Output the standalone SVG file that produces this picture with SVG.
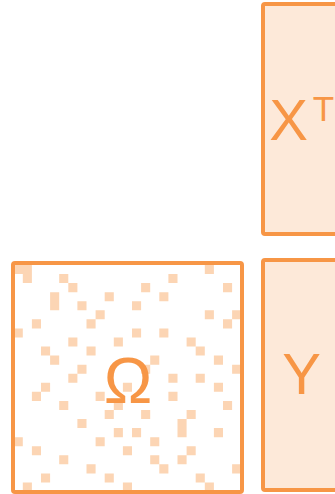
<svg xmlns="http://www.w3.org/2000/svg" width="335" height="494" viewBox="0 0 335 494">
  <style>
    .frame { stroke: #F79646; stroke-width: 4; }
    .mat { fill: #FDE9D9; }
    .lbl { fill: #F79646; font-family: "Liberation Sans", Arial, sans-serif; text-anchor: middle; }
    .nz { fill: #FCD5B4; }
  </style>
  <rect width="335" height="494" fill="#FFFFFF"/>
  <g id="omega">
    <rect x="13" y="263" width="229" height="229" rx="2" fill="#FFFFFF"/>
    <g transform="translate(13.7 265) scale(9.1 9.06)">
      <path class="nz" d="M0 0h1v1h-1z M1 0h1v1h-1z M21 0h1v1h-1z
        M1 1h1v1h-1z M5 1h1v1h-1z M17 1h1v1h-1z
        M6 2h1v1h-1z M14 2h1v1h-1z M23 2h1v1h-1z
        M4 3h1v1h-1z M10 3h1v1h-1z M16 3h1v1h-1z
        M4 4h1v1h-1z M7 4h1v1h-1z M13 4h1v1h-1z
        M9 5h1v1h-1z M21 5h1v1h-1z M24 5h1v1h-1z
        M2 6h1v1h-1z M8 6h1v1h-1z M23 6h1v1h-1z
        M0 7h1v1h-1z M13 7h1v1h-1z M16 7h1v1h-1z
        M6 8h1v1h-1z M11 8h1v1h-1z M19 8h1v1h-1z
        M3 9h1v1h-1z M8 9h1v1h-1z M20 9h1v1h-1z
        M4 10h1v1h-1z M15 10h1v1h-1z M22 10h1v1h-1z
        M7 11h1v1h-1z M14 11h1v1h-1z M24 11h1v1h-1z
        M6 12h1v1h-1z M17 12h1v1h-1z M20 12h1v1h-1z
        M3 13h1v1h-1z M12 13h1v1h-1z M22 13h1v1h-1z
        M2 14h1v1h-1z M9 14h1v1h-1z M17 14h1v1h-1z
        M5 15h1v1h-1z M11 15h1v1h-1z M23 15h1v1h-1z
        M10 16h1v1h-1z M14 16h1v1h-1z M19 16h1v1h-1z
        M7 17h1v1h-1z M18 17h1v1h-1z
        M11 18h1v1h-1z M13 18h1v1h-1z M18 18h1v1h-1z M22 18h1v1h-1z
        M0 19h1v1h-1z M9 19h1v1h-1z M15 19h1v1h-1z
        M2 20h1v1h-1z M12 20h1v1h-1z M19 20h1v1h-1z
        M5 21h1v1h-1z M15 21h1v1h-1z M18 21h1v1h-1z
        M8 22h1v1h-1z M16 22h1v1h-1z M24 22h1v1h-1z
        M3 23h1v1h-1z M10 23h1v1h-1z M20 23h1v1h-1z
        M1 24h1v1h-1z M12 24h1v1h-1z M21 24h1v1h-1z"/>
    </g>
    <rect class="frame" x="13" y="263" width="229" height="229" rx="2" fill="none"/>
    <text class="lbl" x="128" y="403" font-size="65">Ω</text>
  </g>
  <g id="xt">
    <rect class="mat frame" x="263" y="4" width="120" height="230" rx="2"/>
    <text class="lbl" x="288.5" y="139.5" font-size="58">X</text>
    <text class="lbl" x="323.5" y="120.5" font-size="35">T</text>
  </g>
  <g id="y">
    <rect class="mat frame" x="263" y="260" width="120" height="230" rx="2"/>
    <text class="lbl" x="301.5" y="394" font-size="58">Y</text>
  </g>
</svg>
